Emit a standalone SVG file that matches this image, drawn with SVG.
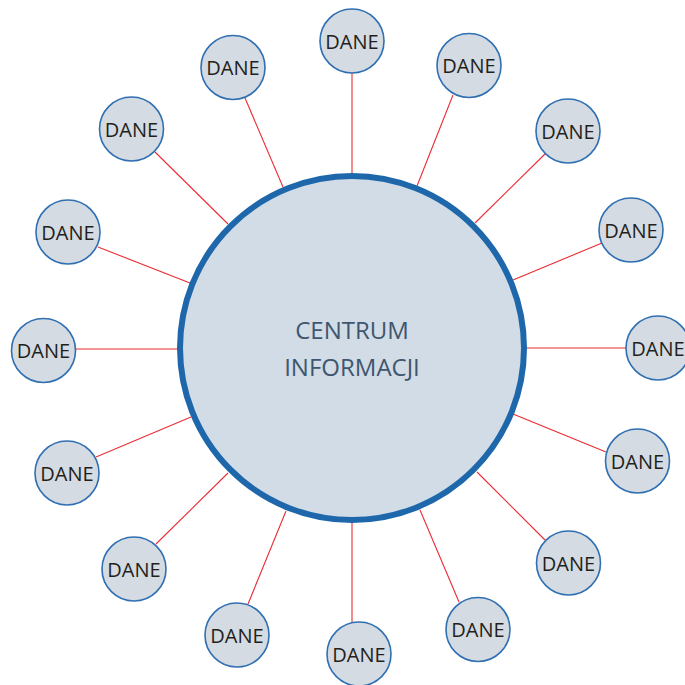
<svg xmlns="http://www.w3.org/2000/svg" width="685" height="685" viewBox="0 0 685 685">
<style>
.c{fill:#d4dbe2;stroke:#2f6fb2;stroke-width:1.6}
.t{font-family:"Open Sans","Noto Sans",sans-serif;font-size:20px;fill:#231f20;text-anchor:middle}
.ct{font-family:"Open Sans","Noto Sans",sans-serif;font-size:24px;fill:#3e566e;text-anchor:middle}
#links line{stroke:#ea2c33;stroke-width:1.1}
</style>
<rect width="685" height="685" fill="#ffffff"/>
<g id="links">
<line x1="352" y1="73" x2="352" y2="176"/>
<line x1="453" y1="95" x2="417" y2="186"/>
<line x1="545" y1="154" x2="475" y2="223"/>
<line x1="602" y1="243" x2="513" y2="280"/>
<line x1="626" y1="348" x2="526" y2="348"/>
<line x1="606" y1="452" x2="513" y2="414"/>
<line x1="545" y1="540" x2="477" y2="472"/>
<line x1="459" y1="602" x2="420" y2="510"/>
<line x1="352" y1="622" x2="352" y2="521"/>
<line x1="248" y1="604" x2="286" y2="511"/>
<line x1="156" y1="544" x2="228" y2="473"/>
<line x1="96" y1="457" x2="191" y2="417"/>
<line x1="76" y1="349" x2="178" y2="349"/>
<line x1="98" y1="247" x2="190" y2="283"/>
<line x1="155" y1="152" x2="228" y2="224"/>
<line x1="245" y1="98" x2="283" y2="187"/>
</g>
<g id="center">
<circle cx="352" cy="348" r="172" fill="#d1dce6" stroke="#1e67ab" stroke-width="6"/>
<text class="ct" x="352" y="338.5">CENTRUM</text>
<text class="ct" x="352" y="375.5">INFORMACJI</text>
</g>
<g id="n1"><circle class="c" cx="352" cy="41" r="32"/><text class="t" x="352" y="48.5">DANE</text></g>
<g id="n2"><circle class="c" cx="469" cy="65.5" r="32"/><text class="t" x="469" y="73">DANE</text></g>
<g id="n3"><circle class="c" cx="568" cy="131" r="32"/><text class="t" x="568" y="138.5">DANE</text></g>
<g id="n4"><circle class="c" cx="631" cy="230" r="32"/><text class="t" x="631" y="237.5">DANE</text></g>
<g id="n5"><circle class="c" cx="658" cy="348" r="32"/><text class="t" x="658" y="355.5">DANE</text></g>
<g id="n6"><circle class="c" cx="637.5" cy="461" r="32"/><text class="t" x="637.5" y="468.5">DANE</text></g>
<g id="n7"><circle class="c" cx="568.5" cy="563" r="32"/><text class="t" x="568.5" y="570.5">DANE</text></g>
<g id="n8"><circle class="c" cx="478" cy="629.5" r="32"/><text class="t" x="478" y="637">DANE</text></g>
<g id="n9"><circle class="c" cx="359" cy="654" r="32"/><text class="t" x="359" y="661.5">DANE</text></g>
<g id="n10"><circle class="c" cx="237" cy="635" r="32"/><text class="t" x="237" y="642.5">DANE</text></g>
<g id="n11"><circle class="c" cx="134" cy="569" r="32"/><text class="t" x="134" y="576.5">DANE</text></g>
<g id="n12"><circle class="c" cx="67" cy="473" r="32"/><text class="t" x="67" y="480.5">DANE</text></g>
<g id="n13"><circle class="c" cx="43.5" cy="350.5" r="32"/><text class="t" x="43.5" y="358">DANE</text></g>
<g id="n14"><circle class="c" cx="68" cy="232" r="32"/><text class="t" x="68" y="239.5">DANE</text></g>
<g id="n15"><circle class="c" cx="131.5" cy="129" r="32"/><text class="t" x="131.5" y="136.5">DANE</text></g>
<g id="n16"><circle class="c" cx="233" cy="67.5" r="32"/><text class="t" x="233" y="75">DANE</text></g>
</svg>
